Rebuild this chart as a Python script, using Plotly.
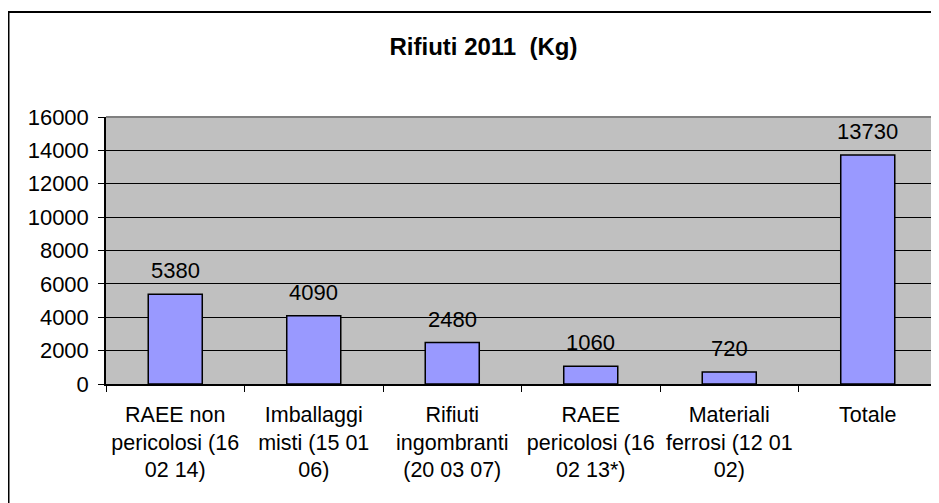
import plotly.graph_objects as go

categories = [
    "RAEE non<br>pericolosi (16<br>02 14)",
    "Imballaggi<br>misti (15 01<br>06)",
    "Rifiuti<br>ingombranti<br>(20 03 07)",
    "RAEE<br>pericolosi (16<br>02 13*)",
    "Materiali<br>ferrosi (12 01<br>02)",
    "Totale",
]
values = [5380, 4090, 2480, 1060, 720, 13730]
y_ticks = [0, 2000, 4000, 6000, 8000, 10000, 12000, 14000, 16000]
y_tick_text = ["0", "2000", "4000", "6000", "8000", "10000", "12000", "14000", "16000"]

FONT = "Arial, Liberation Sans, sans-serif"
W, H = 939, 503
ML, MR, MT, MB = 98, 10, 109, 127
pw = W - ML - MR
ph = H - MT - MB

def px_x(p):
    return (p - ML) / pw

def px_y(p):
    return (H - MB - p) / ph

fig = go.Figure()
fig.add_trace(go.Bar(
    x=categories, y=values,
    marker=dict(color="#9999FF", line=dict(color="black", width=1.5)),
    width=0.39,
))

for c, v in zip(categories, values):
    fig.add_annotation(x=c, y=v, text=str(v), showarrow=False,
                       yanchor="bottom", yshift=9,
                       font=dict(family=FONT, size=22, color="black"))

shapes = [
    # outer chart border (extends beyond right and bottom edges)
    dict(type="rect", xref="paper", yref="paper",
         x0=px_x(0.5), x1=px_x(960), y0=px_y(530), y1=px_y(4),
         line=dict(color="black", width=2), fillcolor="rgba(0,0,0,0)"),
    # top border of plot area
    dict(type="line", xref="paper", yref="paper",
         x0=0, x1=1, y0=1, y1=1, line=dict(color="#808080", width=2)),
    # right border of plot area
    dict(type="line", xref="paper", yref="paper",
         x0=1, x1=1, y0=0, y1=1, line=dict(color="#808080", width=2)),
]

fig.update_layout(
    width=W, height=H,
    margin=dict(l=ML, r=MR, t=MT, b=MB, autoexpand=False),
    paper_bgcolor="white", plot_bgcolor="#C0C0C0",
    showlegend=False,
    title=dict(text="<b>Rifiuti 2011  (Kg)</b>", x=475.5 / W, xanchor="center",
               y=1 - 39 / H, yanchor="middle",
               font=dict(family=FONT, size=24, color="black")),
    font=dict(family=FONT, size=21, color="black"),
    shapes=shapes,
    bargap=0.61,
)
fig.update_xaxes(
    showline=True, linecolor="black", linewidth=1.5,
    ticks="outside", tickson="boundaries", ticklen=6, tickcolor="black",
    tickfont=dict(family=FONT, size=21.5, color="black"),
    ticklabelstandoff=10,
    showgrid=False,
)
fig.update_yaxes(
    range=[0, 16000], tickvals=y_ticks, ticktext=y_tick_text,
    showline=True, linecolor="black", linewidth=1.5,
    ticks="outside", ticklen=6, tickcolor="black",
    tickfont=dict(family=FONT, size=22, color="black"),
    ticklabelstandoff=5,
    showgrid=True, gridcolor="black", gridwidth=1,
    zeroline=False,
)

fig.write_html("out.html")
